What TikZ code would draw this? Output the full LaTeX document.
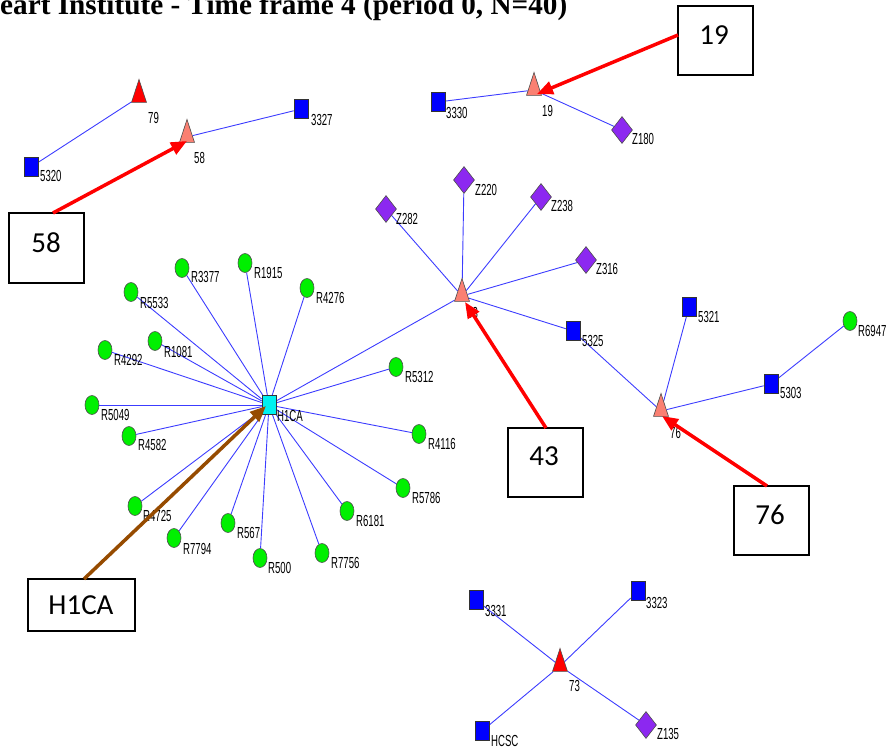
\documentclass[tikz,border=0pt]{standalone}
\usepackage{fontspec}
\setmainfont{Liberation Serif}
\newfontfamily\labfont{Liberation Sans}
\newfontfamily\boxfont{Carlito}
\usetikzlibrary{shapes.geometric,arrows.meta,backgrounds}
\newcommand{\lbl}[1]{\scalebox{0.6}[1]{#1}}
\definecolor{sqblue}{RGB}{0,0,255}
\definecolor{grn}{RGB}{0,240,0}
\definecolor{cyn}{RGB}{0,240,240}
\definecolor{purp}{RGB}{140,40,240}
\definecolor{salmon}{RGB}{250,128,114}
\definecolor{edgeblue}{RGB}{60,60,255}
\definecolor{brown}{RGB}{150,75,0}
\tikzset{
  sq/.style={rectangle, draw=black!80, fill=sqblue, minimum width=14pt, minimum height=19pt, inner sep=0pt, line width=0.6pt},
  cq/.style={rectangle, draw=black!80, fill=cyn, minimum width=14pt, minimum height=19pt, inner sep=0pt, line width=0.6pt},
  gr/.style={ellipse, draw=black!70, fill=grn, minimum width=14pt, minimum height=19pt, inner sep=0pt, line width=0.6pt},
  dm/.style={diamond, draw=black!70, fill=purp, minimum width=21pt, minimum height=27pt, inner sep=0pt, line width=0.6pt},
  trbase/.style={isosceles triangle, isosceles triangle stretches, shape border rotate=90, draw=black!70, minimum width=15pt, minimum height=23pt, inner sep=0pt, line width=0.6pt},
  trs/.style={trbase, fill=salmon},
  trr/.style={trbase, fill=red},
  lab/.style={anchor=north west, inner sep=0pt, font=\labfont\fontsize{16}{16}\selectfont},
  edge/.style={draw=edgeblue, line width=0.9pt},
  callout/.style={rectangle, draw=black, line width=1.8pt, fill=white, inner sep=0pt},
  boxtext/.style={inner sep=0pt, font=\boxfont\fontsize{29}{29}\selectfont},
  arr/.style={line width=3.5pt, -{Triangle[length=16pt,width=13pt]}},
}
\begin{document}
\begin{tikzpicture}[x=1pt,y=-1pt]
\useasboundingbox (0,0) rectangle (887,749);
% title
\node[anchor=base west, inner sep=0pt] (title) at (0,15) {\resizebox{567pt}{!}{\bfseries\fontsize{22}{22}\selectfont eart Institute - Time frame 4 (period 0, N=40)}};

% nodes
\node[trr] (n79) at (139,97) {};
\node[sq] (n5320) at (31,167) {};
\node[trs] (n58) at (187,137) {};
\node[sq] (n3327) at (301,109) {};
\node[sq] (n3330) at (438,102) {};
\node[trs] (n19) at (534,90) {};
\node[dm] (nZ180) at (622,130) {};
\node[dm] (nZ282) at (386,209) {};
\node[dm] (nZ220) at (464,180) {};
\node[dm] (nZ238) at (541,197) {};
\node[dm] (nZ316) at (586,260) {};
\node[trs] (n43) at (462,296) {};
\node[sq] (n5325) at (573,331) {};
\node[sq] (n5321) at (689,307) {};
\node[gr] (nR6947) at (850,321) {};
\node[sq] (n5303) at (771,384) {};
\node[trs] (n76) at (661,411) {};
\node[cq] (nH1CA) at (269,405) {};
\node[gr] (nR3377) at (182,268) {};
\node[gr] (nR1915) at (245,263) {};
\node[gr] (nR4276) at (307,288) {};
\node[gr] (nR5533) at (131,292) {};
\node[gr] (nR1081) at (155,341) {};
\node[gr] (nR4292) at (105,350) {};
\node[gr] (nR5312) at (396,367) {};
\node[gr] (nR5049) at (92,405) {};
\node[gr] (nR4582) at (129,436) {};
\node[gr] (nR4116) at (419,434) {};
\node[gr] (nR4725) at (135,506) {};
\node[gr] (nR7794) at (174,538) {};
\node[gr] (nR567) at (228,523) {};
\node[gr] (nR500) at (260,558) {};
\node[gr] (nR7756) at (322,553) {};
\node[gr] (nR6181) at (347,511) {};
\node[gr] (nR5786) at (403,488) {};
\node[sq] (n3331) at (476,600) {};
\node[sq] (n3323) at (638,591) {};
\node[trr] (n73) at (560,666) {};
\node[sq] (nHCSC) at (482,731) {};
\node[dm] (nZ135) at (646,725) {};

% edges
\begin{pgfonlayer}{background}
\draw[edge] (n5320) -- (n79);
\draw[edge] (n58) -- (n3327);
\draw[edge] (n3330) -- (n19);
\draw[edge] (n19) -- (nZ180);
\foreach \t in {nZ282,nZ220,nZ238,nZ316,n5325,nH1CA} \draw[edge] (n43) -- (\t);
\draw[edge] (n5325) -- (n76);
\draw[edge] (n76) -- (n5321);
\draw[edge] (n76) -- (n5303);
\draw[edge] (n5303) -- (nR6947);
\foreach \t in {nR3377,nR1915,nR4276,nR5533,nR1081,nR4292,nR5312,nR5049,nR4582,nR4116,nR4725,nR7794,nR567,nR500,nR7756,nR6181,nR5786} \draw[edge] (nH1CA) -- (\t);
\foreach \t in {n3331,n3323,nHCSC,nZ135} \draw[edge] (n73) -- (\t);
\end{pgfonlayer}

% labels
\node[lab] (l79) at (148,112) {\lbl{79}};
\node[lab] (l58) at (194,152) {\lbl{58}};
\node[lab] (l3327) at (311,114) {\lbl{3327}};
\node[lab] (l5320) at (40,170) {\lbl{5320}};
\node[lab] (l3330) at (446,107) {\lbl{3330}};
\node[lab] (l19) at (542,105) {\lbl{19}};
\node[lab] (lZ180) at (632,133) {\lbl{Z180}};
\node[lab] (lZ282) at (396,213) {\lbl{Z282}};
\node[lab] (lZ220) at (475,184) {\lbl{Z220}};
\node[lab] (lZ238) at (551,200) {\lbl{Z238}};
\node[lab] (lZ316) at (596,263) {\lbl{Z316}};
\node[lab] (l43) at (467,307) {\lbl{43}};
\node[lab] (l5325) at (582,335) {\lbl{5325}};
\node[lab] (l5321) at (698,311) {\lbl{5321}};
\node[lab] (lR6947) at (858,325) {\lbl{R6947}};
\node[lab] (l5303) at (780,387) {\lbl{5303}};
\node[lab] (l76) at (670,427) {\lbl{76}};
\node[lab] (lH1CA) at (277,410) {\lbl{H1CA}};
\node[lab] (lR3377) at (191,271) {\lbl{R3377}};
\node[lab] (lR1915) at (254,267) {\lbl{R1915}};
\node[lab] (lR4276) at (316,292) {\lbl{R4276}};
\node[lab] (lR5533) at (140,297) {\lbl{R5533}};
\node[lab] (lR1081) at (164,346) {\lbl{R1081}};
\node[lab] (lR4292) at (114,354) {\lbl{R4292}};
\node[lab] (lR5312) at (405,371) {\lbl{R5312}};
\node[lab] (lR5049) at (101,409) {\lbl{R5049}};
\node[lab] (lR4582) at (138,439) {\lbl{R4582}};
\node[lab] (lR4116) at (428,438) {\lbl{R4116}};
\node[lab] (lR4725) at (143,510) {\lbl{R4725}};
\node[lab] (lR7794) at (183,543) {\lbl{R7794}};
\node[lab] (lR567) at (237,527) {\lbl{R567}};
\node[lab] (lR500) at (268,562) {\lbl{R500}};
\node[lab] (lR7756) at (331,557) {\lbl{R7756}};
\node[lab] (lR6181) at (356,515) {\lbl{R6181}};
\node[lab] (lR5786) at (412,492) {\lbl{R5786}};
\node[lab] (l3331) at (485,605) {\lbl{3331}};
\node[lab] (l3323) at (646,597) {\lbl{3323}};
\node[lab] (l73) at (569,680) {\lbl{73}};
\node[lab] (lHCSC) at (491,735) {\lbl{HCSC}};
\node[lab] (lZ135) at (657,728) {\lbl{Z135}};

% callout boxes
\node[callout, minimum width=75pt, minimum height=70pt] (b58) at (46.5,248) {};
\node[boxtext] (t58) at (46,243) {58};
\node[callout, minimum width=75pt, minimum height=69pt] (b19) at (715.5,40.5) {};
\node[boxtext] (t19) at (714,35) {19};
\node[callout, minimum width=75pt, minimum height=69pt] (b43) at (545.5,462.5) {};
\node[boxtext] (t43) at (544,456) {43};
\node[callout, minimum width=75pt, minimum height=69pt] (b76) at (771.5,520.5) {};
\node[boxtext] (t76) at (770,515) {76};
\node[callout, minimum width=107pt, minimum height=52pt] (bH1CA) at (81.5,605) {};
\node[boxtext] (tH1CA) at (81,605) {H1CA};

% arrow ends
\coordinate (s58) at (53,213);
\coordinate (e58) at (187,141);
\coordinate (s19) at (678,35);
\coordinate (e19) at (537,94);
\coordinate (s43) at (546,428);
\coordinate (e43) at (465,302);
\coordinate (s76) at (767,486);
\coordinate (e76) at (662,416);
\coordinate (sH) at (84,579);
\coordinate (eH) at (266,406);
\draw[arr, red] (s58) -- (e58);
\draw[arr, red] (s19) -- (e19);
\draw[arr, red] (s43) -- (e43);
\draw[arr, red] (s76) -- (e76);
\draw[arr, brown] (sH) -- (eH);
\end{tikzpicture}
\end{document}
